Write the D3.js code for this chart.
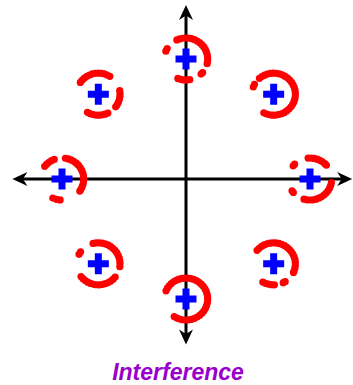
<!DOCTYPE html>
<html>
<head>
<meta charset="utf-8">
<script src="https://cdn.jsdelivr.net/npm/d3@7"></script>
<style>
  html, body { margin: 0; padding: 0; background: #ffffff; }
  svg { display: block; }
</style>
</head>
<body>
<script>
// 8-PSK constellation: ideal symbol positions (I, Q)
const symbolI = [1, 0.707, 0, -0.707, -1, -0.707, 0, 0.707];
const symbolQ = [0, 0.707, 1, 0.707, 0, -0.707, -1, -0.707];

// Received samples: each symbol is displaced by a rotating interferer of fixed amplitude.
const interferenceAmp = 0.175;
// Observed interferer phases (degrees) for the samples around each symbol
const phases0 = [141, 135, 95, 87, 79, 71, 63, 55, 47, 41, -10, -18, -26, -34, -42, -50, -58, -66, -74, -82, -90, -98, -106, -140, -146];
const phases1 = [152, 160, 131, 123, 115, 107, 99, 91, 83, 75, 67, 59, 51, 43, 35, 27, 19, 11, 3, -5, -13, -21, -29, -37, -45, -53, -61, -69, -77, -85, -93, -101, -109, -117];
const phases2 = [150, 158, 115, 107, 99, 91, 83, 75, 67, 59, 51, 43, 35, 27, 19, 11, 3, -5, -13, -40, -46, -80, -88, -96, -104, -112];
const phases3 = [146, 138, 130, 122, 114, 106, 98, 90, 82, 74, 66, 58, 10, 2, -6, -14, -22, -30, -37, -64, -72, -80, -88, -96, -104, -112, -120];
const phases4 = [143, 135, 127, 119, 111, 81, 73, 65, 57, 49, 41, 33, 25, 17, 9, 1, -7, -15, -23, -31, -35, -95, -105, -115];
const phases5 = [145, 153, 104, 96, 88, 80, 72, 64, 56, 48, 40, 32, 24, 16, 8, 0, -8, -39, -47, -55, -63, -71, -79, -87, -95, -103, -111, -119, -127, -135, -143];
const phases6 = [157, 149, 141, 133, 125, 117, 109, 101, 93, 85, 77, 69, 61, 53, 45, 37, 29, 21, 13, 5, -3, -11, -19, -27, -35, -43, -51, -59, -67, -75, -83, -91, -99, -107, -115, -123];
const phases7 = [140, 132, 124, 116, 108, 100, 92, 84, 76, 68, 60, 52, 44, 36, 28, 20, 12, 4, -4, -12, -20, -24, -58, -64, -88, -96, -104, -112, -120];
const interferencePhases = [phases0, phases1, phases2, phases3, phases4, phases5, phases6, phases7];

// Axis extents in I/Q units
const axisI = [-1.40, 1.34];
const axisQ = [-1.38, 1.45];

const titleText = "Interference";

const width = 353, height = 385;

const svg = d3.select("body").append("svg")
  .attr("width", width)
  .attr("height", height);

const x = d3.scaleLinear().domain([-1, 1]).range([62, 310]);
const y = d3.scaleLinear().domain([-1, 1]).range([299, 59]);

// Build the received sample table
const samples = [];
interferencePhases.forEach((list, k) => {
  list.forEach(deg => {
    const a = deg * Math.PI / 180;
    samples.push({
      i: symbolI[k] + interferenceAmp * Math.cos(a),
      q: symbolQ[k] + interferenceAmp * Math.sin(a)
    });
  });
});

// Axes with arrowheads
const axisG = svg.append("g");
const arrowPath = "M0,0 L-15,-7 L-10.5,0 L-15,7 Z";

function drawAxis(p0, p1) {
  const x0 = x(p0[0]), y0 = y(p0[1]), x1 = x(p1[0]), y1 = y(p1[1]);
  const ang = Math.atan2(y1 - y0, x1 - x0);
  const inset = 8;
  axisG.append("line")
    .attr("x1", x0 + inset * Math.cos(ang)).attr("y1", y0 + inset * Math.sin(ang))
    .attr("x2", x1 - inset * Math.cos(ang)).attr("y2", y1 - inset * Math.sin(ang))
    .attr("stroke", "#000").attr("stroke-width", 3);
  [[x1, y1, ang], [x0, y0, ang + Math.PI]].forEach(([tx, ty, t]) => {
    axisG.append("path")
      .attr("d", arrowPath)
      .attr("transform", `translate(${tx},${ty}) rotate(${t * 180 / Math.PI})`)
      .attr("fill", "#000");
  });
}
drawAxis([axisI[0], 0], [axisI[1], 0]);
drawAxis([0, axisQ[0]], [0, axisQ[1]]);

// Received samples
svg.append("g").selectAll("circle")
  .data(samples)
  .join("circle")
  .attr("cx", d => x(d.i))
  .attr("cy", d => y(d.q))
  .attr("r", 3.6)
  .attr("fill", "#ff0000");

// Ideal symbol markers
const cross = d3.symbol().type(d3.symbolCross).size(245);
svg.append("g").selectAll("path")
  .data(symbolI.map((v, k) => ({ i: v, q: symbolQ[k] })))
  .join("path")
  .attr("d", cross)
  .attr("transform", d => `translate(${x(d.i)},${y(d.q)})`)
  .attr("fill", "#0000ff");

// Title
svg.append("text")
  .attr("x", 178)
  .attr("y", 380)
  .attr("text-anchor", "middle")
  .attr("font-family", "'Liberation Sans', Arial, sans-serif")
  .attr("font-size", 23)
  .attr("font-weight", "bold")
  .attr("font-style", "italic")
  .attr("fill", "#9900cc")
  .text(titleText);
</script>
</body>
</html>
